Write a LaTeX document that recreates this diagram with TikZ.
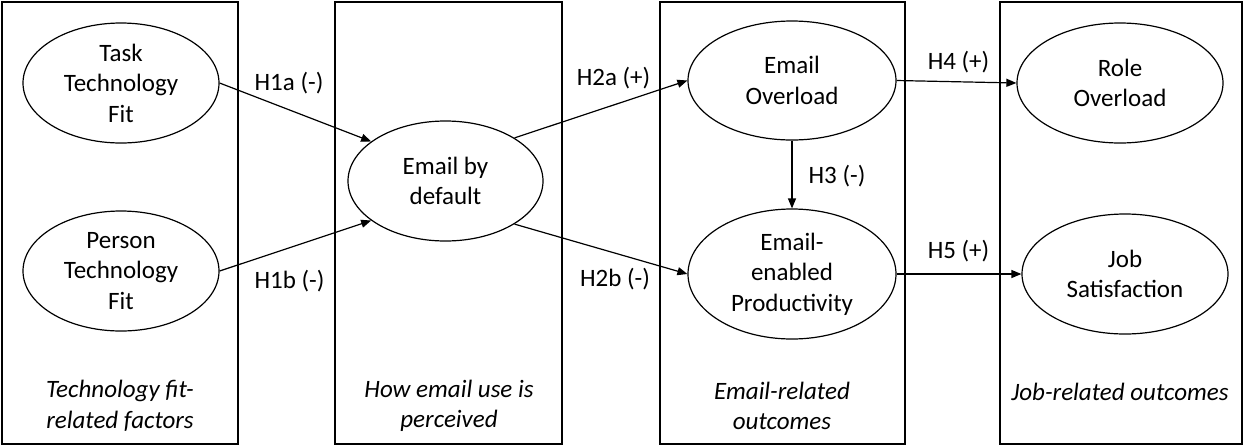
\documentclass[tikz,border=0pt]{standalone}
\usepackage{fontspec}
\setmainfont{Carlito}
\usepackage{tikz}
\usetikzlibrary{positioning,arrows.meta,shapes.geometric}
\newcommand{\figfont}{\fontsize{12.5pt}{15.25pt}\selectfont}

\begin{document}
\begin{tikzpicture}[
    x=0.5pt, y=-0.5pt,
    panel/.style={rectangle, draw, line width=0.6pt, minimum height=221pt},
    construct/.style={ellipse, draw, line width=0.6pt, inner sep=0pt, align=center,
                      font=\figfont, minimum width=98pt, minimum height=60pt},
    caption/.style={align=center, font=\figfont\itshape},
    hyp/.style={font=\figfont},
    arrow/.style={-{Triangle[length=5pt,width=4pt]}, line width=0.6pt},
]
  \useasboundingbox (0,0) rectangle (1244,446);

  % panels
  \node[panel, minimum width=118pt] (fitbox) at (120,223) {};
  \node[panel, minimum width=113.5pt] (usebox) at (448.5,223) {};
  \node[panel, minimum width=122.5pt] (emailbox) at (782.5,223) {};
  \node[panel, minimum width=121pt] (jobbox) at (1121,223) {};

  \node[caption] (fitcap) at (120,406) {Technology fit-\\related factors};
  \node[caption] (usecap) at (449,406) {How email use is\\perceived};
  \node[caption] (emailcap) at (782,406) {Email-related\\outcomes};
  \node[caption] (jobcap) at (1120,392) {Job-related outcomes};

  % constructs
  \node[construct] (ttf) at (121,83) {Task\\Technology\\Fit};
  \node[construct] (ptf) at (121,271) {Person\\Technology\\Fit};
  \node[construct, minimum width=97.5pt] (ebd) at (445.5,181) {Email by\\default};
  \node[construct, minimum width=104pt, minimum height=59.5pt] (eo) at (792,80.5) {Email\\Overload};
  \node[construct, minimum width=104pt, minimum height=65pt] (eep) at (792,274) {Email-\\enabled\\Productivity};
  \node[construct, minimum width=103pt] (ro) at (1120,83) {Role\\Overload};
  \node[construct, minimum width=103pt] (js) at (1125,274) {Job\\Satisfaction};

  % hypotheses
  \draw[arrow] (ttf.east) -- (ebd.152);
  \draw[arrow] (ptf.east) -- (ebd.208);
  \draw[arrow] (ebd.32) -- (eo.west);
  \draw[arrow] (ebd.-32) -- (eep.west);
  \draw[arrow] (eo.south) -- (eep.north);
  \draw[arrow] (eo.east) -- (ro.west);
  \draw[arrow] (eep.east) -- (js.west);

  \node[hyp] (h1a) at (289,83) {H1a (-)};
  \node[hyp] (h1b) at (289.5,281) {H1b (-)};
  \node[hyp] (h2a) at (613.5,78) {H2a (+)};
  \node[hyp] (h2b) at (615,279) {H2b (-)};
  \node[hyp] (h3) at (837,176) {H3 (-)};
  \node[hyp] (h4) at (958.5,62) {H4 (+)};
  \node[hyp] (h5) at (958.5,251) {H5 (+)};
\end{tikzpicture}
\end{document}
